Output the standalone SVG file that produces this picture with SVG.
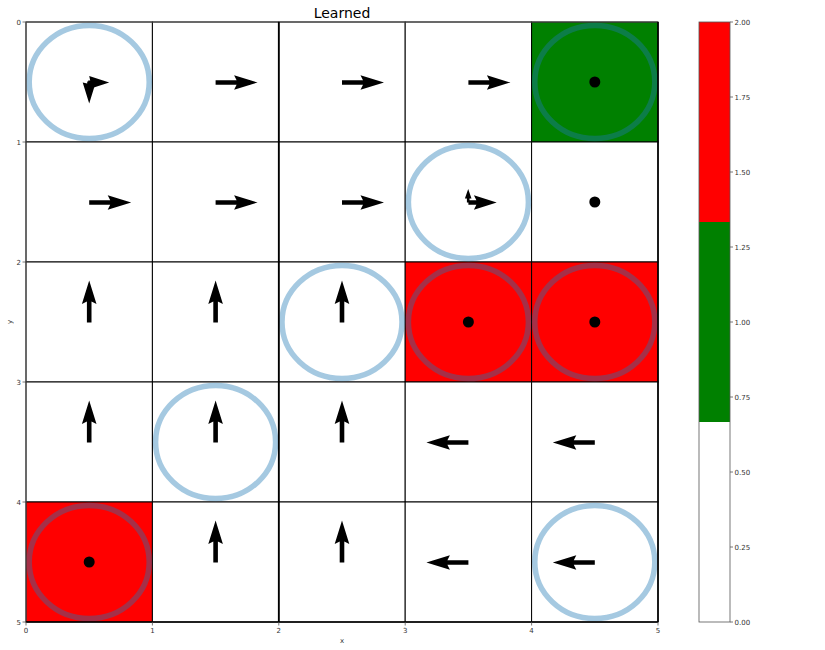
<svg xmlns="http://www.w3.org/2000/svg" xmlns:xlink="http://www.w3.org/1999/xlink" width="825" height="650" viewBox="0 0 825 650">
<style>
.cell{stroke:#000;stroke-width:1}
.w{fill:#fff}
.g{fill:#008000}
.r{fill:#ff0000}
.ring{fill:none;stroke:#1f77b4;stroke-opacity:0.4;stroke-width:5.5}
.dot{fill:#000}
.arr{fill:#000}
.tk{font-family:"DejaVu Sans",sans-serif;font-size:7px;fill:#333}
.tl{stroke:#555;stroke-width:0.8}
</style>
<defs>
<path id="a" d="M0,-2.3 L21,-2.3 L18.5,-7.3 L42,0 L18.5,7.3 L21,2.3 L0,2.3 Z"/>
<path id="s20" d="M-1,-2 L1,-2 L0,-6.5 L20,0 L0,6.5 L1,2 L-1,2 Z"/>
</defs>
<rect width="825" height="650" fill="#fff"/>
<text x="342" y="18" text-anchor="middle" font-family="DejaVu Sans, sans-serif" font-size="14" fill="#000">Learned</text>
<g id="cells">
<rect class="cell w" x="26" y="22" width="126.4" height="120"/>
<rect class="cell w" x="152.4" y="22" width="126.4" height="120"/>
<rect class="cell w" x="278.8" y="22" width="126.4" height="120"/>
<rect class="cell w" x="405.2" y="22" width="126.4" height="120"/>
<rect class="cell g" x="531.6" y="22" width="126.4" height="120"/>
<rect class="cell w" x="26" y="142" width="126.4" height="120"/>
<rect class="cell w" x="152.4" y="142" width="126.4" height="120"/>
<rect class="cell w" x="278.8" y="142" width="126.4" height="120"/>
<rect class="cell w" x="405.2" y="142" width="126.4" height="120"/>
<rect class="cell w" x="531.6" y="142" width="126.4" height="120"/>
<rect class="cell w" x="26" y="262" width="126.4" height="120"/>
<rect class="cell w" x="152.4" y="262" width="126.4" height="120"/>
<rect class="cell w" x="278.8" y="262" width="126.4" height="120"/>
<rect class="cell r" x="405.2" y="262" width="126.4" height="120"/>
<rect class="cell r" x="531.6" y="262" width="126.4" height="120"/>
<rect class="cell w" x="26" y="382" width="126.4" height="120"/>
<rect class="cell w" x="152.4" y="382" width="126.4" height="120"/>
<rect class="cell w" x="278.8" y="382" width="126.4" height="120"/>
<rect class="cell w" x="405.2" y="382" width="126.4" height="120"/>
<rect class="cell w" x="531.6" y="382" width="126.4" height="120"/>
<rect class="cell r" x="26" y="502" width="126.4" height="120"/>
<rect class="cell w" x="152.4" y="502" width="126.4" height="120"/>
<rect class="cell w" x="278.8" y="502" width="126.4" height="120"/>
<rect class="cell w" x="405.2" y="502" width="126.4" height="120"/>
<rect class="cell w" x="531.6" y="502" width="126.4" height="120"/>
</g>
<g id="rings">
<ellipse class="ring" cx="89.2" cy="82" rx="60" ry="56.5"/>
<ellipse class="ring" cx="594.8" cy="82" rx="60" ry="56.5"/>
<ellipse class="ring" cx="468.4" cy="202" rx="60" ry="56.5"/>
<ellipse class="ring" cx="342" cy="322" rx="60" ry="56.5"/>
<ellipse class="ring" cx="468.4" cy="322" rx="60" ry="56.5"/>
<ellipse class="ring" cx="594.8" cy="322" rx="60" ry="56.5"/>
<ellipse class="ring" cx="215.6" cy="442" rx="60" ry="56.5"/>
<ellipse class="ring" cx="89.2" cy="562" rx="60" ry="56.5"/>
<ellipse class="ring" cx="594.8" cy="562" rx="60" ry="56.5"/>
</g>
<g id="dots">
<circle class="dot" cx="594.8" cy="82" r="5.5"/>
<circle class="dot" cx="594.8" cy="202" r="5.5"/>
<circle class="dot" cx="468.4" cy="322" r="5.5"/>
<circle class="dot" cx="594.8" cy="322" r="5.5"/>
<circle class="dot" cx="89.2" cy="562" r="5.5"/>
</g>
<g id="connectors" class="arr">
<use xlink:href="#s20" transform="translate(89.2,82.5)"/>
<use xlink:href="#s20" transform="translate(89.2,82.5) rotate(90) scale(1.05,1)"/>
<use xlink:href="#a" transform="translate(215.6,82.5)"/>
<use xlink:href="#a" transform="translate(342,82.5)"/>
<use xlink:href="#a" transform="translate(468.4,82.5)"/>
<use xlink:href="#a" transform="translate(89.2,202.5)"/>
<use xlink:href="#a" transform="translate(215.6,202.5)"/>
<use xlink:href="#a" transform="translate(342,202.5)"/>
<path d="M468.4,200.3 L476.4,200.3 L473.9,195.3 L496.7,202.5 L473.9,209.7 L476.4,204.7 L468.4,204.7 Z"/>
<path d="M466.9,202.5 L466.9,198.5 L464.9,198.5 L468.2,189 L471.5,198.5 L469.5,198.5 L469.5,202.5 Z"/>
<use xlink:href="#a" transform="translate(89.2,322.5) rotate(-90)"/>
<use xlink:href="#a" transform="translate(215.6,322.5) rotate(-90)"/>
<use xlink:href="#a" transform="translate(342,322.5) rotate(-90)"/>
<use xlink:href="#a" transform="translate(89.2,442.5) rotate(-90)"/>
<use xlink:href="#a" transform="translate(215.6,442.5) rotate(-90)"/>
<use xlink:href="#a" transform="translate(342,442.5) rotate(-90)"/>
<use xlink:href="#a" transform="translate(468.4,442.5) rotate(180)"/>
<use xlink:href="#a" transform="translate(594.8,442.5) rotate(180)"/>
<use xlink:href="#a" transform="translate(215.6,562.5) rotate(-90)"/>
<use xlink:href="#a" transform="translate(342,562.5) rotate(-90)"/>
<use xlink:href="#a" transform="translate(468.4,562.5) rotate(180)"/>
<use xlink:href="#a" transform="translate(594.8,562.5) rotate(180)"/>
</g>
<g id="axes">
<line x1="26" y1="22" x2="26" y2="622" stroke="#555" stroke-width="1"/>
<line x1="26" y1="22" x2="658" y2="22" stroke="#555" stroke-width="1"/>
<line x1="26" y1="622" x2="658" y2="622" stroke="#000" stroke-width="1.6"/>
<line x1="658" y1="22" x2="658" y2="622" stroke="#000" stroke-width="1.6"/>
<line x1="278.8" y1="22" x2="278.8" y2="622" stroke="#000" stroke-width="1.8"/>
<g class="tl">
<line x1="26" y1="622" x2="26" y2="625.5"/><line x1="152.4" y1="622" x2="152.4" y2="625.5"/><line x1="278.8" y1="622" x2="278.8" y2="625.5"/><line x1="405.2" y1="622" x2="405.2" y2="625.5"/><line x1="531.6" y1="622" x2="531.6" y2="625.5"/><line x1="658" y1="622" x2="658" y2="625.5"/>
<line x1="22.5" y1="22" x2="26" y2="22"/><line x1="22.5" y1="142" x2="26" y2="142"/><line x1="22.5" y1="262" x2="26" y2="262"/><line x1="22.5" y1="382" x2="26" y2="382"/><line x1="22.5" y1="502" x2="26" y2="502"/><line x1="22.5" y1="622" x2="26" y2="622"/>
</g>
<g class="tk" text-anchor="middle">
<text x="26" y="633">0</text><text x="152.4" y="633">1</text><text x="278.8" y="633">2</text><text x="405.2" y="633">3</text><text x="531.6" y="633">4</text><text x="658" y="633">5</text>
<text x="342" y="643">x</text>
</g>
<g class="tk" text-anchor="end">
<text x="21" y="24.5">0</text><text x="21" y="144.5">1</text><text x="21" y="264.5">2</text><text x="21" y="384.5">3</text><text x="21" y="504.5">4</text><text x="21" y="624.5">5</text>
</g>
<text class="tk" x="0" y="0" text-anchor="middle" transform="translate(12,322) rotate(-90)">y</text>
</g>
<g id="colorbar">
<rect x="699" y="22" width="31" height="200" fill="#ff0000"/>
<rect x="699" y="222" width="31" height="200" fill="#008000"/>
<rect x="699" y="422" width="31" height="200" fill="#fff"/>
<rect x="699" y="22" width="31" height="600" fill="none" stroke="#555" stroke-width="0.8"/>
<g class="tl">
<line x1="730" y1="22" x2="733" y2="22"/><line x1="730" y1="97" x2="733" y2="97"/><line x1="730" y1="172" x2="733" y2="172"/><line x1="730" y1="247" x2="733" y2="247"/><line x1="730" y1="322" x2="733" y2="322"/><line x1="730" y1="397" x2="733" y2="397"/><line x1="730" y1="472" x2="733" y2="472"/><line x1="730" y1="547" x2="733" y2="547"/><line x1="730" y1="622" x2="733" y2="622"/>
</g>
<g class="tk">
<text x="734.5" y="24.5">2.00</text><text x="734.5" y="99.5">1.75</text><text x="734.5" y="174.5">1.50</text><text x="734.5" y="249.5">1.25</text><text x="734.5" y="324.5">1.00</text><text x="734.5" y="399.5">0.75</text><text x="734.5" y="474.5">0.50</text><text x="734.5" y="549.5">0.25</text><text x="734.5" y="624.5">0.00</text>
</g>
</g>
</svg>
